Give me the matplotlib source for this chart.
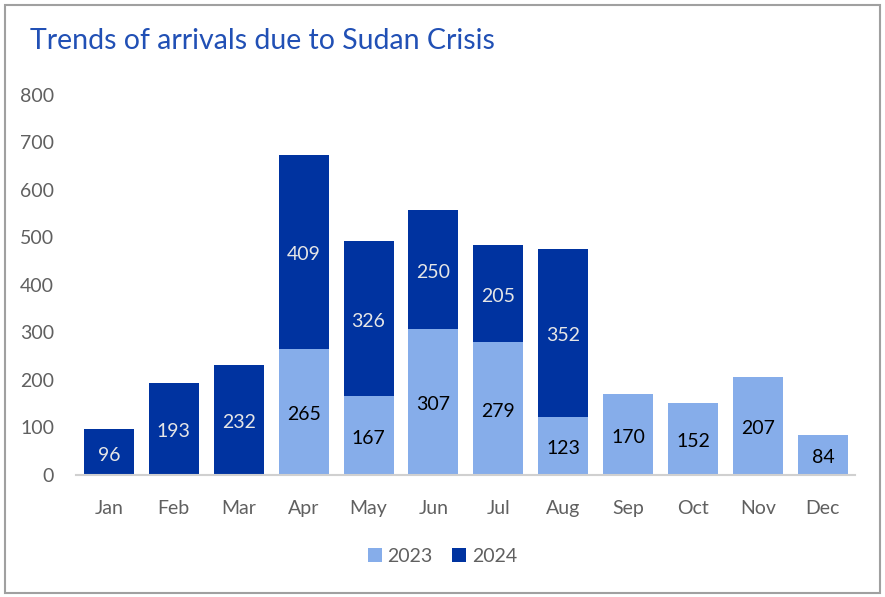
import numpy as np
import matplotlib.pyplot as plt
from matplotlib.patches import Rectangle

months = ['Jan', 'Feb', 'Mar', 'Apr', 'May', 'Jun', 'Jul', 'Aug', 'Sep', 'Oct', 'Nov', 'Dec']
arrivals_2023 = [0, 0, 0, 265, 167, 307, 279, 123, 170, 152, 207, 84]
arrivals_2024 = [96, 193, 232, 409, 326, 250, 205, 352, 0, 0, 0, 0]

light = '#86ADEA'
dark = '#0033A0'
grey = '#606060'

plt.rcParams['font.family'] = ['Lato', 'DejaVu Sans']

fig = plt.figure(figsize=(8.85, 5.97), dpi=100)
ax = fig.add_axes([0.0864, 0.2044, 0.880, 0.6365])

x = np.arange(len(months))
b1 = ax.bar(x, arrivals_2023, width=0.77, color=light, label='2023')
b2 = ax.bar(x, arrivals_2024, width=0.77, bottom=arrivals_2023, color=dark, label='2024')

# value labels centred inside each segment
for i in x:
    v23, v24 = arrivals_2023[i], arrivals_2024[i]
    if v23:
        ax.text(i, v23 / 2 - 6, str(v23), ha='center', va='center', fontsize=14, color='black')
    if v24:
        ax.text(i, v23 + v24 / 2 - 6, str(v24), ha='center', va='center', fontsize=14, color='#E6E6E6')

ax.set_xlim(-0.5, len(months) - 0.5)
ax.set_ylim(0, 800)
ax.set_yticks(range(0, 801, 100))
ax.set_xticks(x)
ax.set_xticklabels(months)
ax.tick_params(axis='both', length=0, labelsize=14, colors=grey)
ax.tick_params(axis='y', pad=16)
ax.tick_params(axis='x', pad=18)
for s in ['top', 'right', 'left']:
    ax.spines[s].set_visible(False)
ax.spines['bottom'].set_color('#D0D0D0')
ax.spines['bottom'].set_linewidth(1.5)

fig.text(0.034, 0.932, 'Trends of arrivals due to Sudan Crisis', fontsize=20.5,
         color='#2150B5', ha='left', va='center')

leg = fig.legend(handles=[b1, b2], loc='center', bbox_to_anchor=(0.5, 0.068), ncol=2,
                 frameon=False, fontsize=14, handlelength=0.7, handleheight=0.7,
                 handletextpad=0.3, columnspacing=1.0)
for t in leg.get_texts():
    t.set_color(grey)

fig.patches.append(Rectangle((0.006, 0.006), 0.988, 0.985, transform=fig.transFigure,
                             fill=False, edgecolor='#A0A0A0', linewidth=1.5))

fig.savefig('out.png', dpi=100)
